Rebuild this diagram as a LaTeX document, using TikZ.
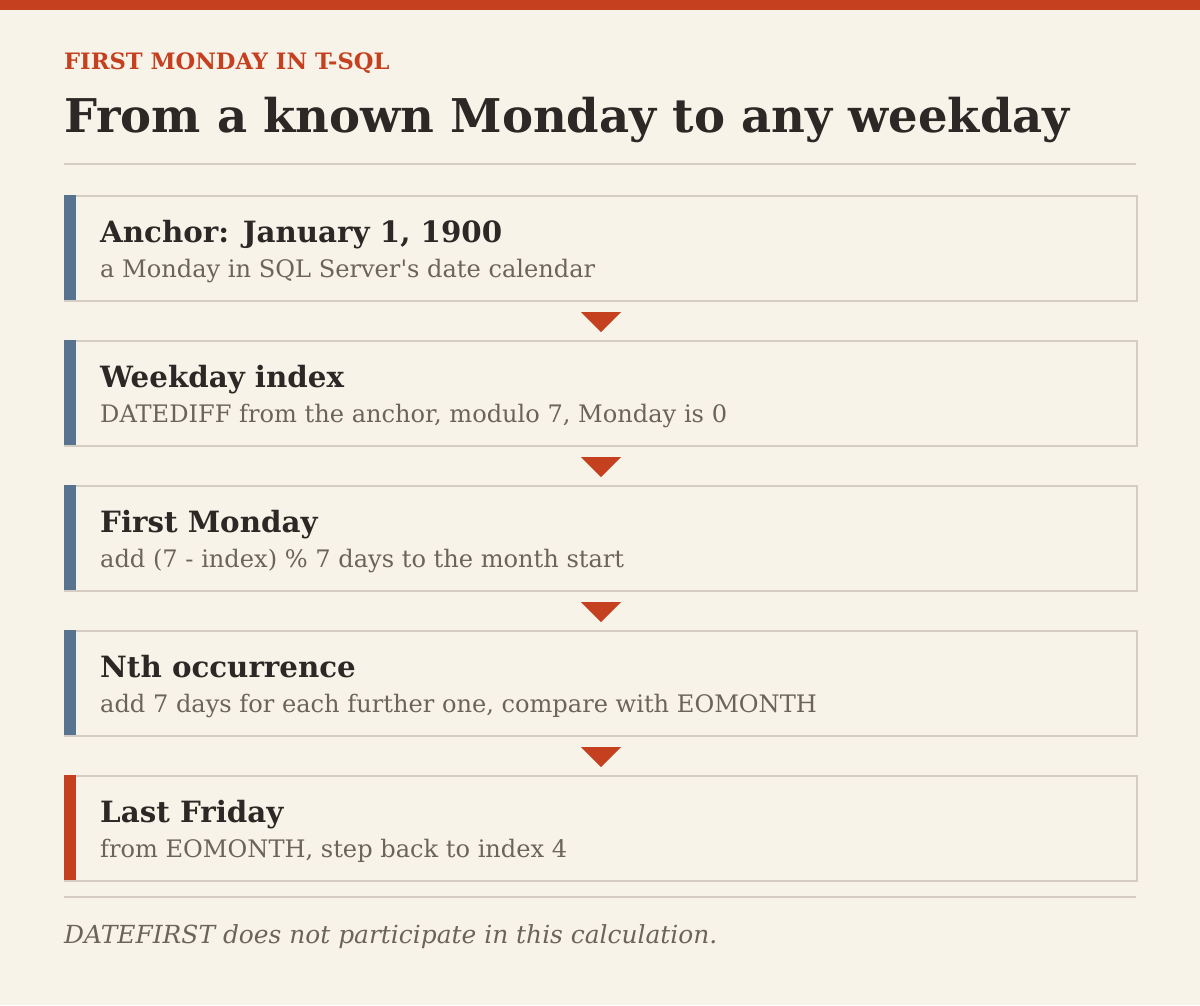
\documentclass[tikz,border=0pt]{standalone}
\usepackage{fontspec}
\setmainfont{DejaVu Serif}
\usetikzlibrary{calc}
\definecolor{bg}{HTML}{F8F3E9}
\definecolor{rust}{HTML}{C4401E}
\definecolor{slate}{HTML}{587390}
\definecolor{ink}{HTML}{2B2825}
\definecolor{muted}{HTML}{6B645A}
\definecolor{rule}{HTML}{D5CDC1}
\tikzset{
  x=1pt, y=-1pt,
  stepbox/.style={draw=rule, line width=2pt, fill=bg, minimum width=1072pt, minimum height=105pt, anchor=north west, inner sep=0pt},
  boxtitle/.style={anchor=base west, inner sep=0pt, text=ink, font=\fontsize{29.3}{34}\selectfont\bfseries},
  boxsub/.style={anchor=base west, inner sep=0pt, text=muted, font=\fontsize{24.1}{28}\selectfont},
  flowtri/.style={fill=rust},
}
\begin{document}
\begin{tikzpicture}
\fill[bg] (0,0) rectangle (1200,1005);
\useasboundingbox (0,0) rectangle (1200,1005);
\fill[rust] (0,0) rectangle (1200,10);
\node[anchor=base west, inner sep=0pt, text=rust, font=\fontsize{22.6}{26}\selectfont\bfseries] (kicker) at (64,69) {FIRST MONDAY IN T-SQL};
\node[anchor=base west, inner sep=0pt, text=ink, font=\fontsize{46.5}{52}\selectfont\bfseries] (title) at (64,132) {From a known Monday to any weekday};
\draw[rule, line width=2pt] (64,164) -- (1136,164);
\foreach \i/\y/\acc/\t/\s in {
  1/195/slate/{Anchor: January 1, 1900}/{a Monday in SQL Server\textquotesingle s date calendar},
  2/340/slate/{Weekday index}/{DATEDIFF from the anchor, modulo 7, Monday is 0},
  3/485/slate/{First Monday}/{add (7 - index) \% 7 days to the month start},
  4/630/slate/{Nth occurrence}/{add 7 days for each further one, compare with EOMONTH},
  5/775/rust/{Last Friday}/{from EOMONTH, step back to index 4}}{
  \node[stepbox] (box\i) at (64,\y) {};
  \fill[\acc] (64,\y) rectangle (76,\y+105);
  \node[boxtitle] (t\i) at (100,\y+47) {\t};
  \node[boxsub] (s\i) at (100,\y+82) {\s};
}
\foreach \a/\b in {1/2,2/3,3/4,4/5}{
  \fill[flowtri] ($(box\a.south)+(-20,10)$) -- ($(box\a.south)+(20,10)$) -- ($(box\a.south)+(0,30)$) -- cycle;
}
\draw[rule, line width=2pt] (64,897) -- (1136,897);
\node[anchor=base west, inner sep=0pt, text=muted, font=\fontsize{24.9}{29}\selectfont\itshape] (note) at (64,943) {DATEFIRST does not participate in this calculation.};
\end{tikzpicture}
\end{document}
